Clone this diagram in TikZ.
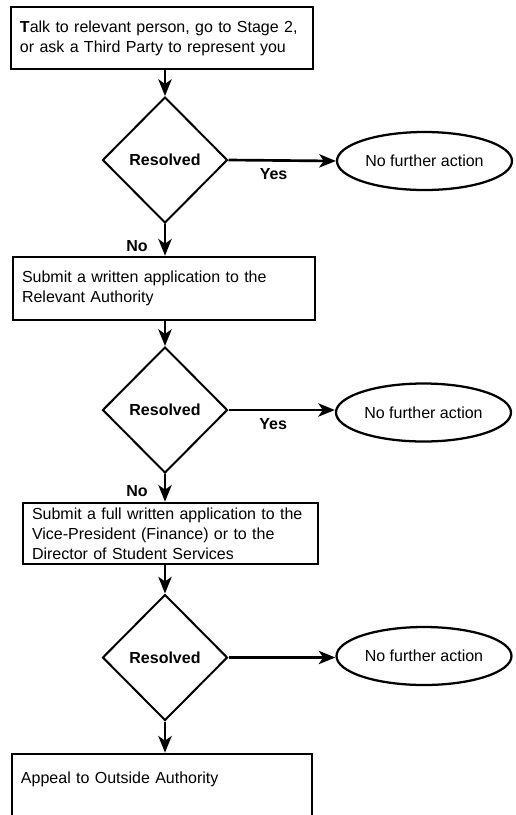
\documentclass[tikz,border=0pt]{standalone}
\usepackage{fontspec}
\setmainfont{Liberation Sans}
\usetikzlibrary{shapes.geometric,arrows.meta}
\begin{document}
\begin{tikzpicture}[x=0.75pt, y=-0.75pt, font=\fontsize{12}{15}\selectfont, every text node part/.style={align=left},
stagebox/.style={draw, line width=2pt, rectangle, inner xsep=6.75pt, text width=#1},
decision/.style={draw, line width=1.5pt, diamond, minimum width=93.75pt, minimum height=94.5pt, inner sep=0pt, font=\fontsize{12}{15}\selectfont\bfseries},
outcome/.style={draw, line width=1.7pt, ellipse, minimum width=131.25pt, minimum height=43.5pt, inner sep=1pt},
answer/.style={font=\fontsize{12}{15}\selectfont\bfseries, inner sep=2pt},
flow/.style={line width=2pt, -{Stealth[length=12.5pt, width=10pt, inset=3.5pt]}}]
\useasboundingbox (0,0) rectangle (516,815);

\node [stagebox=213pt, minimum height=46.5pt] (talk) at (162,38) {\textbf{T}alk to relevant person, go to Stage 2,\\or ask a Third Party to represent you};
\node [decision] (res1) at (165,160) {Resolved};
\node [outcome] (none1) at (424.5,161) {No further action};

\node [stagebox=213pt, minimum height=47.25pt] (written) at (164,288.5) {Submit a written application to the\\Relevant Authority};
\node [decision] (res2) at (165,410) {Resolved};
\node [outcome] (none2) at (423.5,412.5) {No further action};

\node [stagebox=207.75pt, minimum height=45.75pt] (fullapp) at (170.5,533.5) {Submit a full written application to the\\Vice-President (Finance) or to the\\Director of Student Services};
\node [decision] (res3) at (165,657.5) {Resolved};
\node [outcome] (none3) at (424,656) {No further action};

\node [stagebox=211.5pt, minimum height=48pt, text depth=12pt] (appeal) at (162,786) {Appeal to Outside Authority};

\draw [flow] (talk.south -| res1.north) -- (res1.north);
\draw [flow] (res1.east) -- node [answer, below=3pt, pos=0.42] {Yes} (none1.west);
\draw [flow] (res1.south) -- node [answer, left=10pt, pos=0.7] {No} (written.north -| res1.south);

\draw [flow] (written.south -| res2.north) -- (res2.north);
\draw [flow] (res2.east) -- node [answer, below=3pt, pos=0.42] {Yes} (none2.west |- res2.east);
\draw [flow] (res2.south) -- node [answer, left=10pt, pos=0.6] {No} (fullapp.north -| res2.south);

\draw [flow] (fullapp.south -| res3.north) -- (res3.north);
\draw [flow] (res3.east) -- (none3.west |- res3.east);
\draw [flow] (res3.south) -- (appeal.north -| res3.south);
\end{tikzpicture}
\end{document}
